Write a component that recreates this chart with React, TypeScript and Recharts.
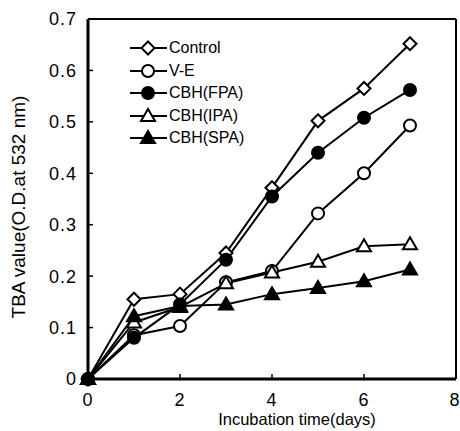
import React from 'react';
import {
  LineChart,
  Line,
  XAxis,
  YAxis,
  ReferenceLine,
} from 'recharts';

const days = [0, 1, 2, 3, 4, 5, 6, 7];
const control = [0, 0.155, 0.165, 0.245, 0.372, 0.502, 0.565, 0.652];
const vitaminE = [0, 0.085, 0.103, 0.188, 0.21, 0.322, 0.4, 0.493];
const cbhFpa = [0, 0.08, 0.145, 0.232, 0.355, 0.44, 0.508, 0.562];
const cbhIpa = [0, 0.11, 0.14, 0.186, 0.207, 0.228, 0.258, 0.262];
const cbhSpa = [0, 0.122, 0.142, 0.145, 0.165, 0.177, 0.19, 0.213];

const xTicks = [0, 2, 4, 6, 8];
const yTicks = [0, 0.1, 0.2, 0.3, 0.4, 0.5, 0.6, 0.7];

type Shape = 'diamond' | 'circle' | 'triangle';

const SERIES: { key: string; name: string; shape: Shape; filled: boolean }[] = [
  { key: 'control', name: 'Control', shape: 'diamond', filled: false },
  { key: 've', name: 'V-E', shape: 'circle', filled: false },
  { key: 'fpa', name: 'CBH(FPA)', shape: 'circle', filled: true },
  { key: 'ipa', name: 'CBH(IPA)', shape: 'triangle', filled: false },
  { key: 'spa', name: 'CBH(SPA)', shape: 'triangle', filled: true },
];

const chartData = days.map((d, i) => ({
  day: d,
  control: control[i],
  ve: vitaminE[i],
  fpa: cbhFpa[i],
  ipa: cbhIpa[i],
  spa: cbhSpa[i],
}));

const FONT = 'Arial, "Liberation Sans", sans-serif';
const tickStyle = { fontSize: 18, fill: '#000', fontFamily: FONT, letterSpacing: 1 };

function Marker({ cx, cy, shape, filled }: { cx: number; cy: number; shape: Shape; filled: boolean }) {
  const fill = filled ? '#000' : '#fff';
  if (shape === 'diamond') {
    const r = 6.5;
    return (
      <polygon
        points={`${cx},${cy - r} ${cx + r},${cy} ${cx},${cy + r} ${cx - r},${cy}`}
        fill={fill}
        stroke="#000"
        strokeWidth={2}
      />
    );
  }
  if (shape === 'triangle') {
    return (
      <polygon
        points={`${cx},${cy - 7} ${cx + 7},${cy + 5} ${cx - 7},${cy + 5}`}
        fill={fill}
        stroke="#000"
        strokeWidth={2}
      />
    );
  }
  return <circle cx={cx} cy={cy} r={6} fill={fill} stroke="#000" strokeWidth={2} />;
}

// legend drawn as an overlay so it doesn't eat plot space
function LegendBox() {
  return (
    <div
      style={{
        position: 'absolute',
        left: 128,
        top: 37,
        fontFamily: FONT,
        fontSize: 16,
        color: '#000',
      }}
    >
      {SERIES.map(s => (
        <div key={s.key} style={{ display: 'flex', alignItems: 'center', height: 22.5 }}>
          <svg width={40} height={20} style={{ display: 'block', flex: 'none' }}>
            <line x1={2} y1={10} x2={39} y2={10} stroke="#000" strokeWidth={2} />
            <Marker cx={20} cy={10} shape={s.shape} filled={s.filled} />
          </svg>
          <span style={{ marginLeft: 1, lineHeight: '20px', whiteSpace: 'nowrap' }}>{s.name}</span>
        </div>
      ))}
    </div>
  );
}

export default function App() {
  return (
    <div style={{ position: 'absolute', left: 0, top: 0, width: 460, height: 431, background: '#fff' }}>
      <LineChart width={460} height={431} data={chartData} margin={{ top: 19, right: 4, bottom: 0, left: 0 }}>
        <XAxis
          dataKey="day"
          type="number"
          domain={[0, 8]}
          ticks={xTicks}
          height={52}
          axisLine={{ stroke: '#000', strokeWidth: 3 }}
          tickLine={{ stroke: '#000', strokeWidth: 1.5 }}
          tickSize={-5}
          tickMargin={19}
          tick={tickStyle}
          label={({ viewBox }: any) => (
            <text
              x={viewBox.x + viewBox.width / 2 + 25}
              y={viewBox.y + 46}
              textAnchor="middle"
              fontSize={16.5}
              fontFamily={FONT}
              fill="#000"
            >
              Incubation time(days)
            </text>
          )}
        />
        <YAxis
          type="number"
          domain={[0, 0.7]}
          ticks={yTicks}
          width={88}
          axisLine={{ stroke: '#000', strokeWidth: 3 }}
          tickLine={{ stroke: '#000', strokeWidth: 1.5 }}
          tickSize={-5}
          tickMargin={16}
          tickFormatter={(v: number) => (v === 0 ? '0' : v.toFixed(1))}
          tick={tickStyle}
          label={({ viewBox }: any) => (
            <text
              x={18}
              y={207}
              transform="rotate(-90, 18, 207)"
              textAnchor="middle"
              dominantBaseline="central"
              fontSize={19}
              fontFamily={FONT}
              fill="#000"
            >
              TBA value(O.D.at 532 nm)
            </text>
          )}
        />
        <ReferenceLine y={0.7} stroke="#000" strokeWidth={2} />
        <ReferenceLine x={8} stroke="#000" strokeWidth={2} />
        {SERIES.map(s => (
          <Line
            key={s.key}
            type="linear"
            dataKey={s.key}
            name={s.name}
            stroke="#000"
            strokeWidth={2}
            isAnimationActive={false}
            dot={(p: any) => (
              <Marker key={`${s.key}-${p.index}`} cx={p.cx} cy={p.cy} shape={s.shape} filled={s.filled} />
            )}
          />
        ))}
      </LineChart>
      <LegendBox />
    </div>
  );
}
